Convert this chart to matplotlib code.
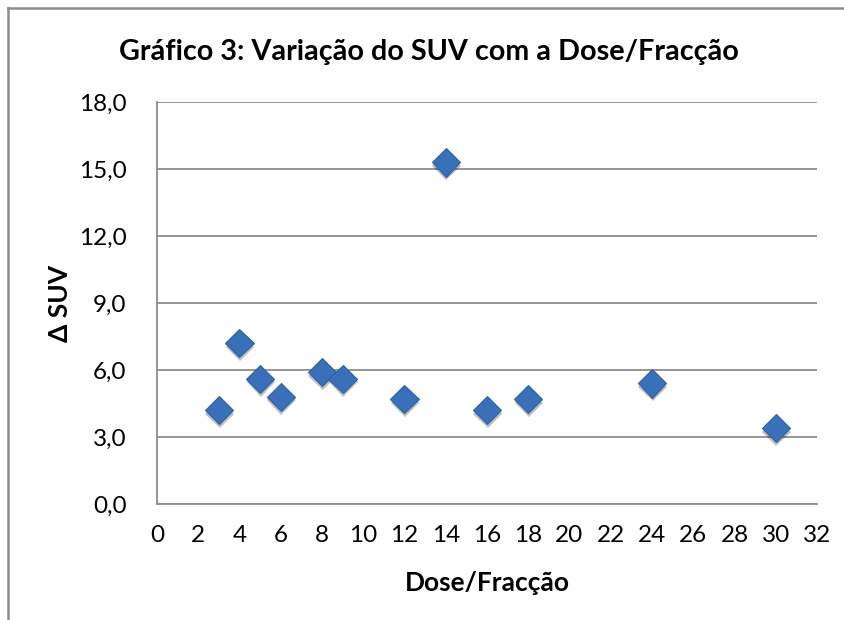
import matplotlib
matplotlib.use("Agg")
import matplotlib.pyplot as plt
import matplotlib.patheffects as pe
from matplotlib.lines import Line2D
from matplotlib.ticker import FuncFormatter, MultipleLocator

plt.rcParams["font.family"] = ["Lato", "DejaVu Sans"]

# data
dose_per_fraction = [3, 4, 5, 6, 8, 9, 12, 14, 16, 18, 24, 30]
delta_suv = [4.2, 7.2, 5.6, 4.8, 5.9, 5.6, 4.7, 15.3, 4.2, 4.7, 5.4, 3.4]

title = "Gráfico 3: Variação do SUV com a Dose/Fracção"
x_label = "Dose/Fracção"
y_label = "Δ SUV"

GRID = "#8c8c8c"
MARKER = "#3a70b8"

fig = plt.figure(figsize=(8.45, 6.2), dpi=100)
ax = fig.add_axes([157 / 845, 1 - 504 / 620, 660 / 845, 402 / 620])

ax.plot(
    dose_per_fraction, delta_suv, linestyle="none", marker="D",
    markersize=14.5, markerfacecolor=MARKER, markeredgecolor="#2f62a6",
    markeredgewidth=0.8, zorder=3,
    path_effects=[pe.SimplePatchShadow(offset=(0.5, -2.5), shadow_rgbFace="#000000", alpha=0.25),
                  pe.Normal()],
)

ax.set_xlim(0, 32)
ax.set_ylim(0, 18)
ax.xaxis.set_major_locator(MultipleLocator(2))
ax.yaxis.set_major_locator(MultipleLocator(3))
ax.yaxis.set_major_formatter(FuncFormatter(lambda v, _: f"{v:.1f}".replace(".", ",")))

ax.grid(axis="y", color=GRID, linewidth=1.3)
ax.set_axisbelow(True)
for side in ("top", "right"):
    ax.spines[side].set_visible(False)
for side in ("left", "bottom"):
    ax.spines[side].set_color(GRID)
    ax.spines[side].set_linewidth(1.3)

ax.tick_params(axis="both", length=0, labelsize=17.5, colors="black")
ax.tick_params(axis="y", pad=22)
ax.tick_params(axis="x", pad=15)

ax.set_xlabel(x_label, fontsize=19, fontweight="bold", va="center")
ax.set_ylabel(y_label, fontsize=19, fontweight="bold", va="center")
ax.xaxis.set_label_coords(0.5, (504 - 583) / 402)
ax.yaxis.set_label_coords((60 - 157) / 660, 0.5)

fig.text(429 / 845, 1 - 52 / 620, title, ha="center", va="center",
         fontsize=20.7, fontweight="bold")

# chart frame (only top and left edges are visible in the crop)
fig.add_artist(Line2D([8 / 845, 8 / 845], [0, 1 - 8 / 620], transform=fig.transFigure,
                      color="#8c8c8c", linewidth=1.8))
fig.add_artist(Line2D([8 / 845, 1], [1 - 8 / 620, 1 - 8 / 620], transform=fig.transFigure,
                      color="#8c8c8c", linewidth=1.8))

fig.savefig("out.png", dpi=100, facecolor="white")
